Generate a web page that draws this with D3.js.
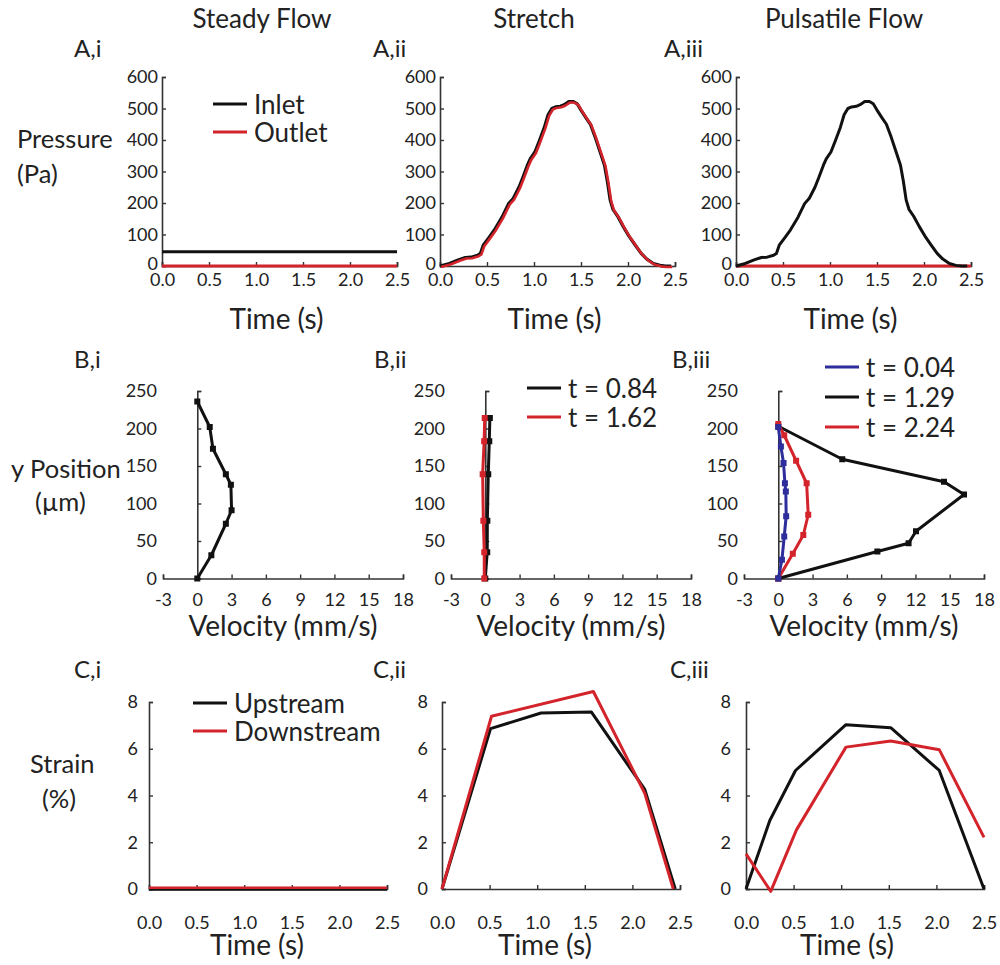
<!DOCTYPE html>
<html><head><meta charset="utf-8">
<script src="https://cdn.jsdelivr.net/npm/d3@7"></script>
<style>
html,body{margin:0;padding:0;background:#fff;}
text{font-family:Lato,"Open Sans",sans-serif;fill:#222;}
</style></head>
<body>
<svg id="chart" width="1000" height="965"></svg>
<script>
// ---------- data ----------
const columnTitles = ["Steady Flow", "Stretch", "Pulsatile Flow"];
const panelLabels = [["A,i","A,ii","A,iii"],["B,i","B,ii","B,iii"],["C,i","C,ii","C,iii"]];
const timeTicks = [0, 0.5, 1.0, 1.5, 2.0, 2.5];
const pressureTicks = [0, 100, 200, 300, 400, 500, 600];
const velocityTicks = [-3, 0, 3, 6, 9, 12, 15, 18];
const positionTicks = [0, 50, 100, 150, 200, 250];
const strainTicks = [0, 2, 4, 6, 8];

// A: pressure (Pa)
const steadyTime = [0, 2.5];
const steadyInlet = [45, 45];
const steadyOutlet = [0, 0];
const pulseTime = [0,0.10,0.20,0.27,0.33,0.40,0.43,0.46,0.52,0.58,0.66,0.73,0.78,0.84,0.88,0.93,0.96,1.01,1.06,1.11,1.15,1.19,1.23,1.28,1.32,1.37,1.42,1.46,1.50,1.55,1.60,1.65,1.70,1.75,1.78,1.81,1.84,1.89,1.95,2.01,2.08,2.14,2.20,2.27,2.34,2.40,2.46];
const pulsePressure = [0,8,20,27,28,34,40,66,90,115,155,198,215,250,280,320,340,362,400,440,480,500,505,507,512,522,522,515,495,472,450,410,365,320,270,210,180,158,125,95,65,40,22,8,2,0,0];
const outletZeroTime = [0, 2.5];
const outletZero = [0, 0];

// B: velocity profiles (mm/s) vs y position (um)
const biY = [0, 31, 73, 91, 125, 139, 173, 202, 236];
const biV = [0, 1.23, 2.5, 3.0, 2.94, 2.5, 1.37, 1.09, 0];
const biiY = [0, 35, 77, 139, 183, 214];
const biiV084 = [0, 0.17, 0.18, 0.26, 0.35, 0.40];
const biiV162 = [-0.09, -0.09, -0.17, -0.23, -0.1, -0.05];
const biiiY004 = [0, 25, 56, 83, 116, 127, 154, 176, 202];
const biiiV004 = [0, 0.32, 0.52, 0.69, 0.66, 0.58, 0.46, 0.23, 0];
const biiiY129 = [0, 36, 47, 63, 112, 129, 159, 203];
const biiiV129 = [0, 8.67, 11.4, 12.05, 16.25, 14.5, 5.6, 0];
const biiiY224 = [0, 33, 58, 85, 127, 157, 191, 206];
const biiiV224 = [0, 1.27, 2.19, 2.62, 2.48, 1.56, 0.52, 0];

// C: strain (%)
const ciTime = [0, 2.5];
const ciUp = [0, 0];
const ciDown = [0.05, 0.05];
const ciiUpTime = [0, 0.51, 1.04, 1.57, 2.13, 2.45];
const ciiUp = [0, 6.86, 7.53, 7.57, 4.26, 0];
const ciiDownTime = [0, 0.52, 1.59, 2.13, 2.43];
const ciiDown = [0, 7.39, 8.45, 4.09, 0];
const ciiiUpTime = [0, 0.25, 0.52, 1.05, 1.52, 2.03, 2.5];
const ciiiUp = [0, 2.93, 5.07, 7.03, 6.9, 5.07, 0];
const ciiiDownTime = [0, 0.26, 0.53, 1.05, 1.52, 2.03, 2.5];
const ciiiDown = [1.5, -0.1, 2.53, 6.07, 6.33, 5.96, 2.21];

// ---------- style ----------
const BLACK = "#111111", RED = "#d3232b", BLUE = "#2d2d9c", AXIS = "#333";
const AXIS_TITLE = 28;
const svg = d3.select("#chart");

function zip(xs, ys) { return xs.map((x, i) => [x, ys[i]]); }

function styleAxis(g) {
  g.selectAll("path.domain").attr("stroke", AXIS).attr("stroke-width", 1.6);
  g.selectAll(".tick line").attr("stroke", AXIS).attr("stroke-width", 1.4);
  g.selectAll(".tick text").attr("fill", "#222").style("font-size", "18px").style("font-family", "Lato, sans-serif");
}

function drawLine(x, y, pts, color, w, dx = 0, dy = 0) {
  const line = d3.line().x(d => x(d[0])).y(d => y(d[1]));
  svg.append("path").datum(pts).attr("d", line)
    .attr("fill", "none").attr("stroke", color).attr("stroke-width", w)
    .attr("stroke-linejoin", "round").attr("transform", `translate(${dx},${dy})`);
}
function drawMarkers(x, y, pts, color) {
  svg.append("g").selectAll("rect").data(pts).join("rect")
    .attr("x", d => x(d[0]) - 3).attr("y", d => y(d[1]) - 3)
    .attr("width", 6).attr("height", 6).attr("fill", color);
}
function text(x, y, s, size, anchor = "start") {
  svg.append("text").attr("x", x).attr("y", y).attr("text-anchor", anchor)
    .style("font-size", size + "px").text(s);
}
function legend(x0, ys, items) {
  items.forEach((it, i) => {
    svg.append("line").attr("x1", x0).attr("x2", x0 + 34).attr("y1", ys[i]).attr("y2", ys[i])
      .attr("stroke", it.color).attr("stroke-width", 3);
    text(x0 + 41, ys[i] + 9.5, it.label, 26);
  });
}

// ---------- column titles & panel labels ----------
text(262, 28, columnTitles[0], 26, "middle");
text(534, 28, columnTitles[1], 26, "middle");
text(844, 28, columnTitles[2], 26, "middle");
const labelX = [[74, 373, 664], [74, 374, 672], [74, 373, 670]];
const labelY = [57, 368, 678];
panelLabels.forEach((row, r) => row.forEach((l, c) => text(labelX[r][c], labelY[r], l, 24)));

// row titles
text(17, 148, "Pressure", 25.5);
text(17, 183, "(Pa)", 25.5);
text(11, 478, "y Position", 25.5);
text(35, 511, "(µm)", 25.5);
text(30, 773, "Strain", 25.5);
text(42, 808, "(%)", 25.5);

// ---------- Row A ----------
const aX0 = [162, 440, 736];
function pressurePanel(c) {
  const x = d3.scaleLinear().domain([0, 2.5]).range([aX0[c], aX0[c] + 235]);
  const y = d3.scaleLinear().domain([0, 600]).range([266, 77]);
  const gx = svg.append("g").attr("transform", `translate(0,${y(0)})`)
    .call(d3.axisBottom(x).tickValues(timeTicks).tickFormat(d3.format(".1f")).tickSize(-4).tickSizeOuter(-4).tickPadding(7));
  styleAxis(gx);
  const gy = svg.append("g").attr("transform", `translate(${x(0)},0)`)
    .call(d3.axisLeft(y).tickValues(pressureTicks).tickSize(-4).tickSizeOuter(-4).tickPadding(4));
  styleAxis(gy);
  gy.selectAll(".tick text").filter(d => d === 0).attr("dy", "0.2em");
  text((x(0) + x(2.5)) / 2 - 3, 329, "Time (s)", AXIS_TITLE, "middle");
  return { x, y };
}
{
  const { x, y } = pressurePanel(0);
  drawLine(x, y, zip(steadyTime, steadyInlet), BLACK, 3);
  drawLine(x, y, zip(steadyTime, steadyOutlet), RED, 3);
  legend(213, [104, 132], [{ label: "Inlet", color: BLACK }, { label: "Outlet", color: RED }]);
}
{
  const { x, y } = pressurePanel(1);
  drawLine(x, y, zip(pulseTime, pulsePressure), BLACK, 3.2);
  drawLine(x, y, zip(pulseTime, pulsePressure), RED, 2.6, 1, 1);
}
{
  const { x, y } = pressurePanel(2);
  drawLine(x, y, zip(outletZeroTime, outletZero), RED, 3);
  drawLine(x, y, zip(pulseTime, pulsePressure), BLACK, 3);
}

// ---------- Row B ----------
const bX0 = [163, 451, 744];
function profilePanel(c) {
  const x = d3.scaleLinear().domain([-3, 18]).range([bX0[c], bX0[c] + 240]);
  const y = d3.scaleLinear().domain([0, 250]).range([578.5, 391]);
  const gx = svg.append("g").attr("transform", `translate(0,${y(0)})`)
    .call(d3.axisBottom(x).tickValues(velocityTicks).tickFormat(d => String(d)).tickSize(-4).tickSizeOuter(-4).tickPadding(15));
  styleAxis(gx);
  // labels at the left edge
  const gl = svg.append("g").attr("transform", `translate(${x(-3)},0)`)
    .call(d3.axisLeft(y).tickValues(positionTicks).tickSize(0).tickPadding(6));
  gl.select("path.domain").remove();
  styleAxis(gl);
  // axis line at velocity 0
  const gy = svg.append("g").attr("transform", `translate(${x(0)},0)`)
    .call(d3.axisRight(y).tickValues(positionTicks).tickFormat("").tickSize(4).tickSizeOuter(4));
  styleAxis(gy);
  text((x(-3) + x(18)) / 2, 636, "Velocity (mm/s)", AXIS_TITLE, "middle");
  return { x, y };
}
{
  const { x, y } = profilePanel(0);
  const pts = zip(biV, biY);
  drawLine(x, y, pts, BLACK, 3);
  drawMarkers(x, y, pts, BLACK);
}
{
  const { x, y } = profilePanel(1);
  const p1 = zip(biiV084, biiY), p2 = zip(biiV162, biiY);
  drawLine(x, y, p1, BLACK, 3); drawMarkers(x, y, p1, BLACK);
  drawLine(x, y, p2, RED, 3); drawMarkers(x, y, p2, RED);
  legend(527, [388, 417], [{ label: "t = 0.84", color: BLACK }, { label: "t = 1.62", color: RED }]);
}
{
  const { x, y } = profilePanel(2);
  const pB = zip(biiiV129, biiiY129), pR = zip(biiiV224, biiiY224), pU = zip(biiiV004, biiiY004);
  drawLine(x, y, pB, BLACK, 3); drawMarkers(x, y, pB, BLACK);
  drawLine(x, y, pR, RED, 3); drawMarkers(x, y, pR, RED);
  drawLine(x, y, pU, BLUE, 3); drawMarkers(x, y, pU, BLUE);
  legend(825, [367, 397, 427], [{ label: "t = 0.04", color: BLUE }, { label: "t = 1.29", color: BLACK }, { label: "t = 2.24", color: RED }]);
}

// ---------- Row C ----------
const cX0 = [149, 442, 746];
const cPad = [11, 14, 15];
const cTitleX = [257, 545, 847];
function strainPanel(c) {
  const x = d3.scaleLinear().domain([0, 2.5]).range([cX0[c], cX0[c] + 238]);
  const y = d3.scaleLinear().domain([0, 8]).range([889, 702]);
  const gx = svg.append("g").attr("transform", `translate(0,${y(0)})`)
    .call(d3.axisBottom(x).tickValues(timeTicks).tickFormat(d3.format(".1f")).tickSize(-4).tickSizeOuter(-4).tickPadding(27));
  styleAxis(gx);
  const gy = svg.append("g").attr("transform", `translate(${x(0)},0)`)
    .call(d3.axisLeft(y).tickValues(strainTicks).tickSize(-4).tickSizeOuter(-4).tickPadding(cPad[c]));
  styleAxis(gy);
  text(cTitleX[c], 955, "Time (s)", AXIS_TITLE, "middle");
  return { x, y };
}
{
  const { x, y } = strainPanel(0);
  drawLine(x, y, zip(ciTime, ciUp), BLACK, 3.5);
  drawLine(x, y, zip(ciTime, ciDown), RED, 2.5);
  legend(193, [703, 731], [{ label: "Upstream", color: BLACK }, { label: "Downstream", color: RED }]);
}
{
  const { x, y } = strainPanel(1);
  drawLine(x, y, zip(ciiUpTime, ciiUp), BLACK, 3);
  drawLine(x, y, zip(ciiDownTime, ciiDown), RED, 3);
}
{
  const { x, y } = strainPanel(2);
  drawLine(x, y, zip(ciiiUpTime, ciiiUp), BLACK, 3);
  drawLine(x, y, zip(ciiiDownTime, ciiiDown), RED, 3);
}
</script>
</body></html>
